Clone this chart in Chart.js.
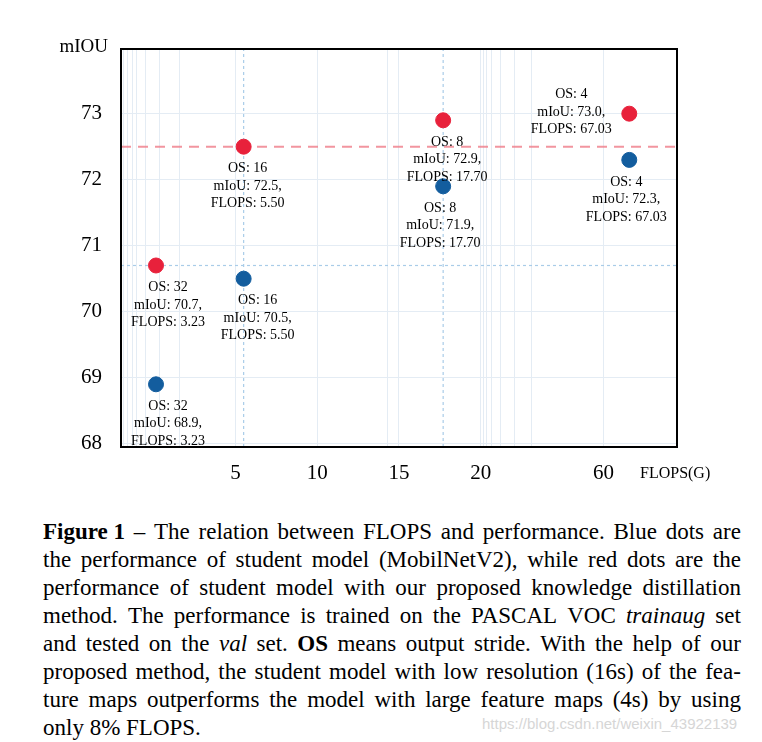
<!DOCTYPE html>
<html>
<head>
<meta charset="utf-8">
<script src="https://cdn.jsdelivr.net/npm/chart.js@4/dist/chart.umd.min.js"></script>
<style>
  body { margin: 0; background: #fff; width: 762px; height: 742px; overflow: hidden; position: relative; }
  #wrap { position: absolute; left: 0; top: 0; width: 762px; height: 500px; }
  #caption { position: absolute; left: 43px; top: 518px; width: 698px; font-family: "Liberation Serif", "DejaVu Serif", serif; font-size: 23px; line-height: 28px; color: #000; }
  #caption .j { display: flex; justify-content: space-between; white-space: nowrap; }
  #caption .last { white-space: nowrap; }
  #mark { position: absolute; left: 482px; top: 715px; font-family: "Liberation Sans", Arial, sans-serif; font-size: 15px; color: #d6d6d6; }
</style>
</head>
<body>
<div id="wrap"><canvas id="myChart"></canvas></div>
<div id="caption">
  <div class="j"><b>Figure 1</b> – The relation between FLOPS and performance. Blue dots are</div>
  <div class="j">the performance of student model (MobilNetV2), while red dots are the</div>
  <div class="j">performance of student model with our proposed knowledge distillation</div>
  <div class="j">method. The performance is trained on the PASCAL VOC <i>trainaug</i> set</div>
  <div class="j">and tested on the <i>val</i> set. <b>OS</b> means output stride. With the help of our</div>
  <div class="j">proposed method, the student model with low resolution (16s) of the fea-</div>
  <div class="j">ture maps outperforms the model with large feature maps (4s) by using</div>
  <div class="last">only 8% FLOPS.</div>
</div>
<div id="mark">https://blog.csdn.net/weixin_43922139</div>
<script>
// valeurs
const outputStride = [32, 16, 8, 4];
const flops = [3.23, 5.50, 17.70, 67.03];
const studentMiou = [68.9, 70.5, 71.9, 72.3];   // points bleus
const distillMiou = [70.7, 72.5, 72.9, 73.0];   // points rouges
const xTickLabels = [5, 10, 15, 20, 60];
const xMinorGrid = [2.5, 2.6, 2.7, 2.8, 3.0, 3.3, 3.75, 14.3, 21, 22, 23.5, 26.5, 31, 36.5];
const yTickLabels = [68, 69, 70, 71, 72, 73];

const yMin = 67.95, yMax = 73.98;

// légende justifiée : un mot par élément, lignes sans retour
document.querySelectorAll('#caption .j').forEach(line => {
  const parts = [];
  line.childNodes.forEach(n => {
    if (n.nodeType === 3) {
      n.textContent.split(/\s+/).filter(Boolean).forEach(w => {
        const s = document.createElement('span');
        s.textContent = w;
        parts.push(s);
      });
    } else {
      parts.push(n.cloneNode(true));
    }
  });
  line.innerHTML = '';
  parts.forEach(p => line.appendChild(p));
});

// axe x "cassé" : chaque segment entre deux repères a sa propre largeur
class BrokenScale extends Chart.LinearScale {
  determineDataLimits() {
    const b = this.options.breaks;
    this.min = b[0];
    this.max = b[b.length - 1];
  }
  buildTicks() {
    return this.options.gridValues.map(v => ({ value: v }));
  }
  getPixelForValue(value) {
    const b = this.options.breaks, s = this.options.spans;
    const total = s.reduce((a, c) => a + c, 0);
    let acc = 0;
    for (let i = 0; i < s.length; i++) {
      if (value <= b[i + 1] || i === s.length - 1) {
        const f = (value - b[i]) / (b[i + 1] - b[i]);
        return this.getPixelForDecimal((acc + f * s[i]) / total);
      }
      acc += s[i];
    }
  }
  getValueForPixel(pixel) {
    const b = this.options.breaks, s = this.options.spans;
    const total = s.reduce((a, c) => a + c, 0);
    const d = this.getDecimalForPixel(pixel) * total;
    let acc = 0;
    for (let i = 0; i < s.length; i++) {
      if (d <= acc + s[i] || i === s.length - 1) {
        return b[i] + (d - acc) / s[i] * (b[i + 1] - b[i]);
      }
      acc += s[i];
    }
  }
}
BrokenScale.id = 'broken';
BrokenScale.defaults = {};
Chart.register(BrokenScale);

const serif = '"Liberation Serif", "DejaVu Serif", serif';
const RED = '#e8213b';
const BLUE = '#135d9e';

function pts(xs, ys) {
  return xs.map((x, i) => ({ x: x, y: ys[i] }));
}

// décalage horizontal des étiquettes par rapport au point
const labelShift = [[12, 14, -3, -3], [12, 4, 4, -58]];

// textes sous / à côté des points
const pointText = {
  id: 'pointText',
  afterDatasetsDraw(chart) {
    const ctx = chart.ctx;
    ctx.save();
    ctx.font = '14px ' + serif;
    ctx.fillStyle = '#000';
    ctx.textAlign = 'center';
    ctx.textBaseline = 'middle';
    [0, 1].forEach(di => {
      const meta = chart.getDatasetMeta(di);
      const vals = di === 0 ? studentMiou : distillMiou;
      meta.data.forEach((p, i) => {
        const lines = ['OS: ' + outputStride[i], 'mIoU: ' + vals[i].toFixed(1) + ',', 'FLOPS: ' + flops[i].toFixed(2)];
        const cx = p.x + labelShift[di][i];
        let cy = p.y + 22;
        if (di === 1 && i === 3) { cy = p.y - 19; }
        lines.forEach((t, k) => ctx.fillText(t, cx, cy + k * 17.5));
      });
    });
    ctx.restore();
  },
  afterDraw(chart) {
    const ctx = chart.ctx, a = chart.chartArea;
    ctx.save();
    ctx.strokeStyle = '#000';
    ctx.lineWidth = 2;
    ctx.strokeRect(a.left, a.top, a.right - a.left, a.bottom - a.top);
    ctx.fillStyle = '#000';
    ctx.textBaseline = 'middle';
    ctx.font = '19px ' + serif;
    ctx.textAlign = 'right';
    ctx.fillText('mIOU', a.left - 13, a.top - 2);
    ctx.font = '16px ' + serif;
    ctx.textAlign = 'left';
    ctx.fillText('FLOPS(G)', a.right - 37, a.bottom + 27);
    ctx.restore();
  }
};

const ctx = document.getElementById('myChart');

new Chart(ctx, {
  type: 'scatter',
  data: {
    datasets: [
      { label: 'student', data: pts(flops, studentMiou), backgroundColor: BLUE, borderColor: BLUE, pointRadius: 7.5, order: 1 },
      { label: 'distill', data: pts(flops, distillMiou), backgroundColor: RED, borderColor: RED, pointRadius: 7.5, order: 1 },
      { data: [{ x: 2.45, y: distillMiou[1] }, { x: 80, y: distillMiou[1] }], showLine: true, pointRadius: 0,
        borderColor: 'rgba(240,130,142,0.85)', borderWidth: 2, borderDash: [10, 7], order: 2 },
      { data: [{ x: 2.45, y: distillMiou[0] }, { x: 80, y: distillMiou[0] }], showLine: true, pointRadius: 0,
        borderColor: '#a9cce8', borderWidth: 1.2, borderDash: [3, 3], order: 3 },
      { data: [{ x: flops[1], y: yMin }, { x: flops[1], y: yMax }], showLine: true, pointRadius: 0,
        borderColor: '#a9cce8', borderWidth: 1.2, borderDash: [3, 3], order: 3 },
      { data: [{ x: flops[2], y: yMin }, { x: flops[2], y: yMax }], showLine: true, pointRadius: 0,
        borderColor: '#a9cce8', borderWidth: 1.2, borderDash: [3, 3], order: 3 }
    ]
  },
  options: {
    responsive: true,
    maintainAspectRatio: false,
    animation: false,
    layout: { padding: { top: 49, right: 85, left: 0, bottom: 0 } },
    plugins: { legend: { display: false }, tooltip: { enabled: false } },
    scales: {
      x: {
        type: 'broken',
        breaks: [2.45, 5, 10, 15, 20, 60, 80],
        spans: [1.4, 1, 1, 1, 1.5, 0.9],
        gridValues: xTickLabels.concat(xMinorGrid).sort((a, b) => a - b),
        grid: { color: '#e4ecf4', drawTicks: false },
        border: { display: false },
        ticks: {
          autoSkip: false, maxRotation: 0, padding: 14,
          color: '#000', font: { family: serif, size: 21 },
          callback: v => xTickLabels.includes(v) ? String(v) : ''
        },
        afterFit: s => { s.height = 53; }
      },
      y: {
        min: yMin, max: yMax,
        afterBuildTicks: s => { s.ticks = yTickLabels.map(v => ({ value: v })); },
        grid: { color: '#e4ecf4', drawTicks: false },
        border: { display: false },
        ticks: { padding: 19, color: '#000', font: { family: serif, size: 21 } },
        afterFit: s => { s.width = 121; }
      }
    }
  },
  plugins: [pointText]
});
</script>
</body>
</html>
